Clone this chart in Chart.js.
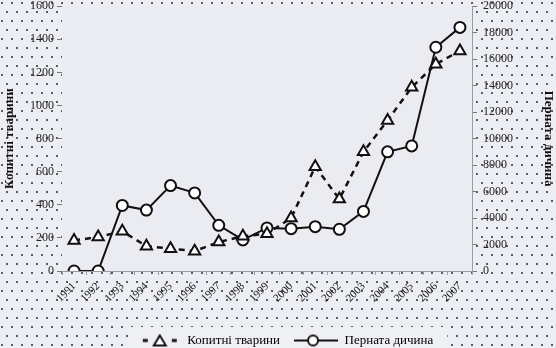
<!DOCTYPE html>
<html>
<head>
<meta charset="utf-8">
<script src="https://cdn.jsdelivr.net/npm/chart.js@4/dist/chart.umd.min.js"></script>
<style>
html, body { margin: 0; padding: 0; }
body {
    width: 556px; height: 348px; overflow: hidden;
    background-color: #eceef3;
    background-image: radial-gradient(circle, #5a5d66 0.9px, transparent 1.4px), radial-gradient(circle, #5a5d66 0.9px, transparent 1.4px);
    background-size: 10px 18px;
    background-position: 2px 3px, 7px 12px;
}
#chart { display: block; margin-top: -7px; }
</style>
</head>
<body>
<canvas id="chart" width="556" height="364"></canvas>
<script>
var years = ['1991', '1992', '1993', '1994', '1995', '1996', '1997', '1998', '1999', '2000', '2001', '2002', '2003', '2004', '2005', '2006', '2007'];
var hoofed = [185, 205, 240, 150, 135, 120, 175, 210, 225, 320, 630, 435, 720, 910, 1110, 1250, 1330];
var birds = [0, 0, 4950, 4600, 6450, 5900, 3450, 2350, 3250, 3200, 3350, 3150, 4500, 9000, 9450, 16900, 18400];
var hoofedLabel = 'Копитні тварини';
var birdsLabel = 'Перната дичина';

(function () {
    'use strict';

    // legend icons: line + marker, with empty space on the left as item gap
    function legendIcon(kind) {
        var c = document.createElement('canvas');
        c.width = 58; c.height = 14;
        var g = c.getContext('2d');
        g.strokeStyle = '#111'; g.fillStyle = '#fff'; g.lineWidth = 2;
        if (kind === 'triangle') {
            g.lineWidth = 3;
            g.beginPath(); g.moveTo(20, 7); g.lineTo(25, 7); g.moveTo(49, 7); g.lineTo(54, 7); g.stroke();
            g.lineWidth = 2;
            g.beginPath(); g.moveTo(37, 2); g.lineTo(43, 12); g.lineTo(31, 12); g.closePath(); g.fill(); g.stroke();
        } else {
            g.beginPath(); g.moveTo(14, 7); g.lineTo(58, 7); g.stroke();
            g.beginPath(); g.arc(33, 7, 5, 0, Math.PI * 2); g.fill(); g.stroke();
        }
        return c;
    }

    function plain(v) { return String(v); }

    var plotFill = {
        id: 'plotFill',
        beforeDraw: function (chart) {
            var a = chart.chartArea, ctx = chart.ctx, lg = chart.legend;
            ctx.save();
            ctx.fillStyle = '#ebecf1';
            ctx.fillRect(a.left, a.top, a.right - a.left, a.bottom - a.top);
            if (lg && lg.legendHitBoxes && lg.legendHitBoxes.length) {
                var hb = lg.legendHitBoxes, x0 = hb[0].left + 6, last = hb[hb.length - 1];
                ctx.fillStyle = '#eff0f4';
                ctx.fillRect(x0, lg.top - 7, last.left + last.width + 14 - x0, 30);
            }
            ctx.restore();
        }
    };

    var serif = 'Liberation Serif';
    var tickFont = { family: serif, size: 12 };

    new Chart(document.getElementById('chart'), {
        type: 'line',
        data: {
            labels: years,
            datasets: [
                { label: hoofedLabel, data: hoofed, yAxisID: 'y', borderColor: '#111', borderWidth: 2.5, borderDash: [6, 5], pointStyle: 'triangle', pointRadius: 6.5, pointBorderWidth: 2, pointBackgroundColor: '#fff', pointBorderColor: '#111', tension: 0, fill: false },
                { label: birdsLabel, data: birds, yAxisID: 'y1', borderColor: '#111', borderWidth: 2, pointStyle: 'circle', pointRadius: 5.5, pointBorderWidth: 2, pointBackgroundColor: '#fff', pointBorderColor: '#111', tension: 0, fill: false }
            ]
        },
        options: {
            responsive: false,
            animation: false,
            layout: { padding: 0 },
            plugins: {
                tooltip: { enabled: false },
                legend: {
                    position: 'bottom',
                    labels: {
                        usePointStyle: true,
                        pointStyleWidth: 58,
                        padding: 0,
                        color: '#111',
                        font: { family: serif, size: 13 },
                        generateLabels: function () {
                            return [
                                { text: hoofedLabel, pointStyle: legendIcon('triangle'), fillStyle: '#fff', strokeStyle: '#111', lineWidth: 0, hidden: false, datasetIndex: 0 },
                                { text: birdsLabel, pointStyle: legendIcon('circle'), fillStyle: '#fff', strokeStyle: '#111', lineWidth: 0, hidden: false, datasetIndex: 1 }
                            ];
                        }
                    }
                }
            },
            scales: {
                x: {
                    offset: true,
                    border: { display: true, color: '#9a9ca3' },
                    grid: { offset: true, drawOnChartArea: false, tickLength: 4, color: '#9a9ca3' },
                    ticks: { minRotation: 45, maxRotation: 45, padding: 5, color: '#111', font: { family: serif, size: 11 } },
                    afterFit: function (s) { s.height = 63; }
                },
                y: {
                    position: 'left', min: 0, max: 1600,
                    border: { display: false },
                    grid: { drawOnChartArea: false, tickLength: 5, color: '#777' },
                    ticks: { stepSize: 200, padding: 3, color: '#222', font: tickFont, callback: plain },
                    title: { display: true, text: hoofedLabel, color: '#111', padding: { top: 2, bottom: 0 }, font: { family: serif, size: 13, weight: 'bold' } },
                    afterFit: function (s) { s.width = 62; }
                },
                y1: {
                    position: 'right', min: 0, max: 20000,
                    border: { display: true, color: '#9a9ca3' },
                    grid: { drawOnChartArea: false, tickLength: 5, color: '#777' },
                    ticks: { stepSize: 2000, padding: 6, color: '#222', font: tickFont, callback: plain },
                    title: { display: true, text: birdsLabel, color: '#111', padding: { top: 0, bottom: 2 }, font: { family: serif, size: 13, weight: 'bold' } },
                    afterFit: function (s) { s.width = 84; }
                }
            }
        },
        plugins: [plotFill]
    });
})();
</script>
</body>
</html>
